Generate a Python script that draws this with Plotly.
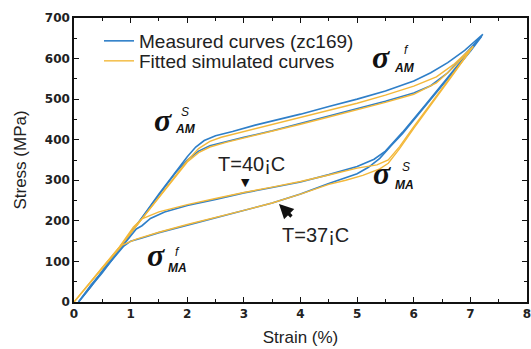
import plotly.graph_objects as go

# ---- data (strain %, stress MPa) ----
strain_meas_40 = [0.08, 0.3, 0.6, 0.9, 1.2, 1.5, 1.8, 2.0, 2.15, 2.3, 2.5, 2.8, 3.2, 3.6, 4.0, 4.5, 5.0, 5.5, 6.0, 6.3, 6.6, 6.9, 7.22,
                  7.0, 6.6, 6.2, 5.8, 5.5, 5.3, 5.0, 4.5, 4.0, 3.5, 3.0, 2.5, 2.0, 1.6, 1.35, 1.2, 1.1, 0.8, 0.5, 0.25, 0.08]
stress_meas_40 = [0, 38, 95, 150, 208, 266, 322, 358, 382, 398, 410, 420, 436, 449, 463, 482, 500, 520, 545, 565, 590, 620, 660,
                  622, 553, 485, 418, 372, 352, 334, 314, 296, 282, 269, 253, 238, 222, 206, 188, 180, 128, 72, 30, 0]

strain_meas_37 = [0.08, 0.3, 0.6, 0.9, 1.2, 1.5, 1.8, 2.0, 2.2, 2.4, 2.7, 3.0, 3.5, 4.0, 4.5, 5.0, 5.5, 6.0, 6.3, 6.6, 6.9, 7.2,
                  7.0, 6.6, 6.2, 5.8, 5.6, 5.4, 5.2, 5.0, 4.5, 4.0, 3.5, 3.0, 2.5, 2.0, 1.5, 1.2, 1.0, 0.88, 0.6, 0.3, 0.08]
stress_meas_37 = [0, 38, 95, 150, 207, 264, 320, 350, 372, 385, 396, 406, 422, 440, 458, 477, 495, 515, 533, 565, 610, 655,
                  618, 550, 482, 415, 385, 354, 332, 316, 292, 266, 244, 226, 208, 190, 171, 158, 150, 138, 92, 42, 0]

strain_fit_40 = [0, 0.3, 0.6, 0.9, 1.2, 1.5, 1.8, 2.0, 2.2, 2.4, 2.6, 3.0, 3.5, 4.0, 4.5, 5.0, 5.5, 6.0, 6.4, 6.7, 7.05,
                 6.7, 6.3, 6.0, 5.75, 5.55, 5.35, 5.0, 4.5, 4.0, 3.5, 3.0, 2.5, 2.0, 1.5, 1.2, 1.05, 0.8, 0.5, 0.25, 0]
stress_fit_40 = [0, 50, 100, 152, 205, 258, 312, 348, 378, 396, 406, 420, 437, 454, 472, 490, 510, 532, 555, 585, 630,
                 565, 490, 432, 383, 350, 338, 330, 313, 297, 283, 270, 255, 240, 222, 205, 185, 135, 85, 42, 0]

strain_fit_37 = [0, 0.3, 0.6, 0.9, 1.2, 1.5, 1.8, 2.0, 2.2, 2.4, 2.7, 3.0, 3.5, 4.0, 4.5, 5.0, 5.5, 6.0, 6.4, 6.7, 7.05,
                 6.7, 6.3, 6.0, 5.75, 5.55, 5.4, 5.1, 4.8, 4.5, 4.0, 3.5, 3.0, 2.5, 2.0, 1.5, 1.1, 0.85, 0.6, 0.3, 0]
stress_fit_37 = [0, 50, 100, 152, 205, 258, 312, 345, 368, 382, 394, 404, 420, 438, 456, 474, 492, 512, 540, 578, 630,
                 562, 486, 428, 378, 342, 328, 312, 300, 290, 266, 244, 226, 209, 191, 172, 155, 140, 100, 50, 0]

series_names = ["Measured curves (zc169)", "Fitted simulated curves"]
x_ticks = [0, 1, 2, 3, 4, 5, 6, 7, 8]
y_ticks = [0, 100, 200, 300, 400, 500, 600, 700]

BLUE = "#2f7fc8"
ORANGE = "#f3b83a"

fig = go.Figure()
fig.add_trace(go.Scatter(x=strain_meas_40, y=stress_meas_40, mode="lines", name=series_names[0],
                         line=dict(color=BLUE, width=1.6), showlegend=True, legend="legend"))
fig.add_trace(go.Scatter(x=strain_meas_37, y=stress_meas_37, mode="lines", name=series_names[0],
                         line=dict(color=BLUE, width=1.6), showlegend=False))
fig.add_trace(go.Scatter(x=strain_fit_40, y=stress_fit_40, mode="lines", name=series_names[1],
                         line=dict(color=ORANGE, width=1.4), showlegend=True, legend="legend2"))
fig.add_trace(go.Scatter(x=strain_fit_37, y=stress_fit_37, mode="lines", name=series_names[1],
                         line=dict(color=ORANGE, width=1.4), showlegend=False))

# page-pixel -> data helpers for annotation placement (plot area: x 74..527, y 18..302)
def dx(px):
    return (px - 74) / 56.625

def dy(py):
    return (302 - py) / 0.4057

ann = []
SIG = dict(family="Liberation Serif", size=32, color="#111")
SUP = dict(family="Liberation Sans", size=12, color="#111")

def sigma(cx, cy, sup, sup_xy, sub, sub_xy):
    ann.append(dict(x=dx(cx), y=dy(cy), text="<b><i>σ</i></b>", showarrow=False, font=SIG,
                    xanchor="center", yanchor="middle"))
    ann.append(dict(x=dx(sup_xy[0]), y=dy(sup_xy[1]), text="<i>" + sup + "</i>", showarrow=False, font=SUP,
                    xanchor="center", yanchor="middle"))
    ann.append(dict(x=dx(sub_xy[0]), y=dy(sub_xy[1]), text="<b><i>" + sub + "</i></b>", showarrow=False, font=SUP,
                    xanchor="center", yanchor="middle"))

sigma(163, 120, "S", (185, 112), "AM", (185, 129))
sigma(381, 57, "f", (406, 50), "AM", (404, 68))
sigma(382, 173, "S", (406, 167), "MA", (404, 185))
sigma(156, 255, "f", (177, 252), "MA", (177, 268))

TFONT = dict(family="Liberation Sans", size=20, color="#222")
ann.append(dict(x=dx(251), y=dy(164), text="T=40¡C", showarrow=False, font=TFONT, xanchor="center", yanchor="middle"))
ann.append(dict(x=dx(315), y=dy(235), text="T=37¡C", showarrow=False, font=TFONT, xanchor="center", yanchor="middle"))
ann.append(dict(x=dx(245), y=dy(182), text="▼", showarrow=False,
                font=dict(family="DejaVu Sans", size=11, color="#111"), xanchor="center", yanchor="middle"))
ann.append(dict(x=dx(279), y=dy(204), ax=14, ay=14, text="", showarrow=True, arrowhead=2,
                arrowwidth=3.2, arrowsize=0.9, arrowcolor="#111"))

LEGFONT = dict(family="Liberation Sans", size=19, color="#222")
fig.update_layout(
    width=531, height=349,
    margin=dict(l=74, r=4, t=18, b=47),
    paper_bgcolor="white", plot_bgcolor="white",
    annotations=ann,
    showlegend=True,
    legend=dict(x=dx(99) / 8, y=dy(22) / 700, xanchor="left", yanchor="top", bgcolor="rgba(0,0,0,0)",
                font=LEGFONT, borderwidth=0),
    legend2=dict(x=dx(99) / 8, y=dy(42) / 700, xanchor="left", yanchor="top", bgcolor="rgba(0,0,0,0)",
                 font=LEGFONT, borderwidth=0),
    font=dict(family="Liberation Sans", color="#222"),
)

axis_common = dict(showgrid=False, zeroline=False, showline=True, linecolor="#111", linewidth=1.5,
                   mirror="allticks", ticks="inside", ticklen=5, tickwidth=1.2, tickcolor="#111",
                   automargin=False, ticklabeloverflow="allow",
                   tickfont=dict(family="DejaVu Sans", size=12, color="#222", weight="bold"))

fig.update_xaxes(range=[0, 8], tickvals=x_ticks, ticktext=[str(v) for v in x_ticks],
                 title=dict(text="Strain (%)", font=dict(family="Liberation Sans", size=17, color="#222"), standoff=11),
                 minor=dict(ticks="inside", ticklen=3, tickwidth=1, tickcolor="#111", dtick=0.5, showgrid=False),
                 **axis_common)
fig.update_yaxes(range=[0, 700], tickvals=y_ticks, ticktext=[str(v) for v in y_ticks],
                 title=dict(text="Stress (MPa)", font=dict(family="Liberation Sans", size=17, color="#222"), standoff=14),
                 minor=dict(ticks="inside", ticklen=3, tickwidth=1, tickcolor="#111", dtick=50, showgrid=False),
                 **axis_common)

# remove the default page margin so the 531x349 figure fills the window exactly
fig.write_html("out.html", config={"displayModeBar": False},
               post_script="document.body.style.margin='0';document.body.style.overflow='hidden';")
